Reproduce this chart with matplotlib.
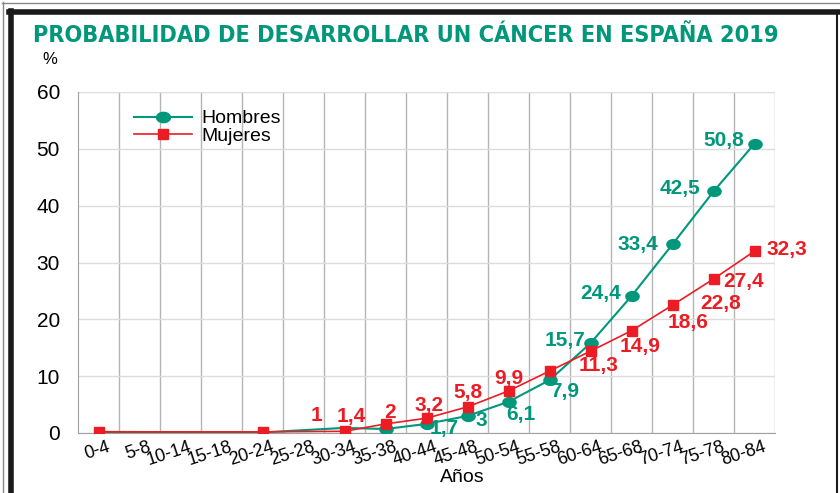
import numpy as np
import matplotlib
matplotlib.use("Agg")
import matplotlib.pyplot as plt
from matplotlib import font_manager
from matplotlib.path import Path
from matplotlib.lines import Line2D

edades = ['0-4', '5-8', '10-14', '15-18', '20-24', '25-28', '30-34', '35-38', '40-44',
          '45-48', '50-54', '55-58', '60-64', '65-68', '70-74', '75-78', '80-84']

# puntos de la curva de hombres
hombres_edad = ['0-4', '20-24', '25-28', '30-34', '35-38', '40-44', '45-48', '50-54',
                '55-58', '60-64', '65-68', '70-74', '75-78', '80-84']
hombres = [0.2, 0.1, 0.5, 0.9, 0.7, 1.6, 3.0, 5.5, 9.3, 15.8, 24.1, 33.2, 42.5, 50.9]
hombres_etiq_edad = ['40-44', '45-48', '50-54', '55-58', '60-64', '65-68', '70-74', '75-78', '80-84']
hombres_etiq = ['1,7', '3', '6,1', '7,9', '15,7', '24,4', '33,4', '42,5', '50,8']

# puntos de la curva de mujeres
mujeres_edad = ['0-4', '20-24', '30-34', '35-38', '40-44', '45-48', '50-54', '55-58',
                '60-64', '65-68', '70-74', '75-78', '80-84']
mujeres = [0.2, 0.2, 0.3, 1.6, 2.6, 4.6, 7.4, 10.9, 14.4, 18.0, 22.5, 27.1, 32.0]
mujeres_etiq_edad = ['25-28', '30-34', '35-38', '40-44', '45-48', '50-54', '55-58',
                     '60-64', '65-68', '70-74', '75-78', '80-84']
mujeres_etiq = ['1', '1,4', '2', '3,2', '5,8', '9,9', '11,3', '14,9', '18,6', '22,8', '27,4', '32,3']

# desplazamiento de las etiquetas (puntos)
hombres_off = [(13, -3), (10, -3), (9, -9.5), (11, -8.5), (-18, 2), (-22, 2), (-25, 0), (-24, 2), (-22, 2)]
mujeres_off = [(9, 11.5), (5, 11), (3, 8), (1.5, 9.5), (0, 10), (0, 9), (35, 4), (36, 3),
               (41, 6), (35, 1.5), (22, -2), (23, 1.5)]

VERDE = '#00977B'
ROJO = '#EC1C24'

plt.rcParams['font.family'] = ['Liberation Sans', 'DejaVu Sans']

# fuente estrecha para el titulo, si hay alguna
titulo_prop = font_manager.FontProperties(family='Liberation Sans', weight='bold')
for f in font_manager.fontManager.ttflist:
    estrecha = ('Narrow' in f.name or 'Condensed' in f.name or
                str(f.stretch) in ('condensed', 'semi-condensed', 'extra-condensed'))
    if estrecha and f.weight in ('bold', 700, 'heavy', 800) and 'Oblique' not in f.fname \
            and 'Italic' not in f.fname:
        titulo_prop = font_manager.FontProperties(fname=f.fname)
        break

fig = plt.figure(figsize=(8.4, 4.93), dpi=100)
ax = fig.add_axes([78 / 840, 60 / 493, 697 / 840, 341 / 493])

x_h = [edades.index(e) for e in hombres_edad]
x_m = [edades.index(e) for e in mujeres_edad]

t = np.linspace(0, 2 * np.pi, 60)
elipse = Path(np.column_stack([1.35 * np.cos(t), np.sin(t)]), closed=True)

ax.plot(x_h, hombres, color=VERDE, lw=1.5, marker=elipse, ms=9.5,
        markevery=list(range(hombres_edad.index('35-38'), len(hombres))), zorder=3)
ax.plot(x_m, mujeres, color=ROJO, lw=1.2, marker='s', ms=7, zorder=4)

for e, txt, off in zip(hombres_etiq_edad, hombres_etiq, hombres_off):
    xi = edades.index(e)
    yi = np.interp(xi, x_h, hombres)
    ax.annotate(txt, (xi, yi), xytext=off, textcoords='offset points', ha='center',
                va='center', color=VERDE, fontsize=15, fontweight='bold', zorder=5)
for e, txt, off in zip(mujeres_etiq_edad, mujeres_etiq, mujeres_off):
    xi = edades.index(e)
    yi = np.interp(xi, x_m, mujeres)
    ax.annotate(txt, (xi, yi), xytext=off, textcoords='offset points', ha='center',
                va='center', color=ROJO, fontsize=15, fontweight='bold', zorder=5)

ax.set_xlim(-0.5, 16.5)
ax.set_ylim(0, 60)
ax.set_yticks(range(0, 61, 10))
# etiquetas algo corridas a la derecha, como en el original
ax.set_xticks(np.arange(len(edades)) + 0.2)
ax.set_xticks(np.arange(0.5, 17, 1), minor=True)
ax.set_xticklabels(edades, rotation=18, ha='right', va='top', rotation_mode='anchor', fontsize=13)
ax.tick_params(axis='x', which='both', length=0, pad=4)
ax.tick_params(axis='y', length=0, pad=13, labelsize=15)
ax.grid(axis='x', which='minor', color='#b4b4b4', lw=1)
ax.grid(axis='y', which='major', color='#dcdcdc', lw=1)
ax.set_axisbelow(True)
for s in ['top', 'right']:
    ax.spines[s].set_visible(False)
for s in ['left', 'bottom']:
    ax.spines[s].set_color('#a0a0a0')

leyenda = [Line2D([], [], color=VERDE, lw=1.5, marker=elipse, ms=10),
           Line2D([], [], color=ROJO, lw=1.2, marker='s', ms=7)]
ax.legend(leyenda, ['Hombres', 'Mujeres'], loc='upper left', bbox_to_anchor=(0.08, 0.948),
          frameon=False, fontsize=14, handlelength=3.0, handletextpad=0.5,
          labelspacing=0.0, borderpad=0, borderaxespad=0)

fig.text(50 / 840, 1 - 60 / 493, '%', ha='center', va='center', fontsize=12)
fig.text(462 / 840, 1 - 478 / 493, 'Años', ha='center', va='center', fontsize=14)

titulo_prop.set_size(23)
titulo = fig.text(33 / 840, 1 - 42 / 493, 'PROBABILIDAD DE DESARROLLAR UN CÁNCER EN ESPAÑA 2019',
                  ha='left', va='baseline', color=VERDE, fontproperties=titulo_prop)
r = fig.canvas.get_renderer()
ancho = titulo.get_window_extent(r).width
if ancho > 749:
    titulo.set_fontsize(23 * 749 / ancho)

# marco de la imagen
def linea(xs, ys, **kw):
    fig.add_artist(Line2D([v / 840 for v in xs], [1 - v / 493 for v in ys],
                          transform=fig.transFigure, **kw))

linea([2.5, 2.5], [2, 493], color='#888888', lw=1)
linea([2, 840], [2.5, 2.5], color='#888888', lw=1)
linea([10.5, 10.5], [11, 493], color='#1a1a1a', lw=4)
linea([9, 840], [11.5, 11.5], color='#1a1a1a', lw=4)
linea([837, 837], [11, 493], color='#1a1a1a', lw=1.5)

fig.savefig('out.png', dpi=100)
